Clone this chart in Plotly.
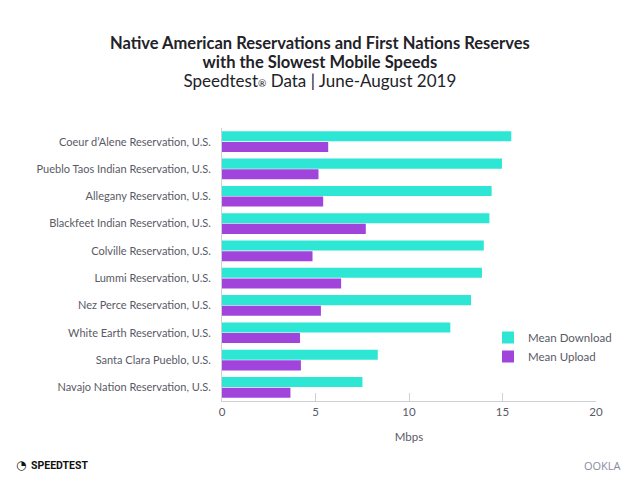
import plotly.graph_objects as go

categories = [
    "Coeur d’Alene Reservation, U.S.",
    "Pueblo Taos Indian Reservation, U.S.",
    "Allegany Reservation, U.S.",
    "Blackfeet Indian Reservation, U.S.",
    "Colville Reservation, U.S.",
    "Lummi Reservation, U.S.",
    "Nez Perce Reservation, U.S.",
    "White Earth Reservation, U.S.",
    "Santa Clara Pueblo, U.S.",
    "Navajo Nation Reservation, U.S.",
]
mean_download = [15.47, 14.97, 14.42, 14.30, 14.00, 13.90, 13.32, 12.21, 8.33, 7.51]
mean_upload = [5.68, 5.16, 5.41, 7.69, 4.84, 6.37, 5.29, 4.17, 4.22, 3.66]
x_ticks = [0, 5, 10, 15, 20]

FONT = "Lato"
TFONT = "Open Sans"
GRAY = "#5a5a66"

L, R, T, B = 222, 44, 128, 87
W, H = 640, 488
plot_h = H - T - B
plot_w = W - L - R


def py(pix):
    return (H - B - pix) / plot_h


def px(pix):
    return (pix - L) / plot_w


fig = go.Figure()
fig.add_trace(go.Bar(y=categories, x=mean_download, orientation="h", name="Mean Download",
                     marker=dict(color="#2ee6d4", line=dict(width=0))))
fig.add_trace(go.Bar(y=categories, x=mean_upload, orientation="h", name="Mean Upload",
                     marker=dict(color="#a044dc", line=dict(width=0))))

fig.update_layout(
    width=W, height=H,
    margin=dict(l=L, r=R, t=T, b=B, autoexpand=False),
    paper_bgcolor="white", plot_bgcolor="white",
    barmode="group", bargap=0.22, bargroupgap=0.06,
    font=dict(family=FONT, color=GRAY, size=11),
    showlegend=True,
    legend=dict(x=px(488), y=py(347), xanchor="left", yanchor="middle",
                font=dict(size=11.5, color=GRAY, family=FONT), bgcolor="rgba(0,0,0,0)",
                itemwidth=30, tracegroupgap=0),
    xaxis=dict(range=[0, 20], tickvals=x_ticks, ticks="inside", ticklen=8,
               tickcolor="#cfcfd6", showline=True, linecolor="#cfcfd6", linewidth=1,
               showgrid=False, zeroline=False, fixedrange=True, automargin=False,
               title=dict(text="Mbps", font=dict(size=11.5, color=GRAY), standoff=16),
               tickfont=dict(size=11.5, color=GRAY)),
    yaxis=dict(autorange="reversed", showline=True, linecolor="#cfcfd6", linewidth=1,
               showgrid=False, ticks="", ticklabelstandoff=8, automargin=False,
               fixedrange=True, tickfont=dict(size=11, color=GRAY)),
)

fig.add_annotation(
    text=("<span style=\"font-size:16.5px;font-weight:700\">Native American Reservations and First Nations Reserves</span><br>"
          "<span style=\"font-size:16.5px;font-weight:700\">with the Slowest Mobile Speeds</span><br>"
          "<span style=\"font-size:17px\">Speedtest<span style=\"font-size:10px\">®</span> Data | June-August 2019</span>"),
    x=px(320), y=py(62), xref="paper", yref="paper", showarrow=False,
    xanchor="center", yanchor="middle", align="center",
    font=dict(size=14.5, color="#222228", family="Lato"))
fig.add_annotation(text="<b>SPEEDTEST</b>",
                   x=px(29), y=py(465), xref="paper", yref="paper", showarrow=False,
                   xanchor="left", yanchor="middle",
                   font=dict(size=10.5, color="#111111", family="Roboto"))
fig.add_annotation(text="◔",
                   x=px(14), y=py(465), xref="paper", yref="paper", showarrow=False,
                   xanchor="left", yanchor="middle",
                   font=dict(size=12, color="#111111", family="DejaVu Sans"))
fig.add_annotation(text="OOKLA",
                   x=px(623), y=py(465), xref="paper", yref="paper", showarrow=False,
                   xanchor="right", yanchor="middle",
                   font=dict(size=11, color="#8a8aa0", family=TFONT))

fig.write_html("out.html", config={"displayModeBar": False},
               post_script="document.body.style.margin='0';document.body.style.overflow='hidden';")
